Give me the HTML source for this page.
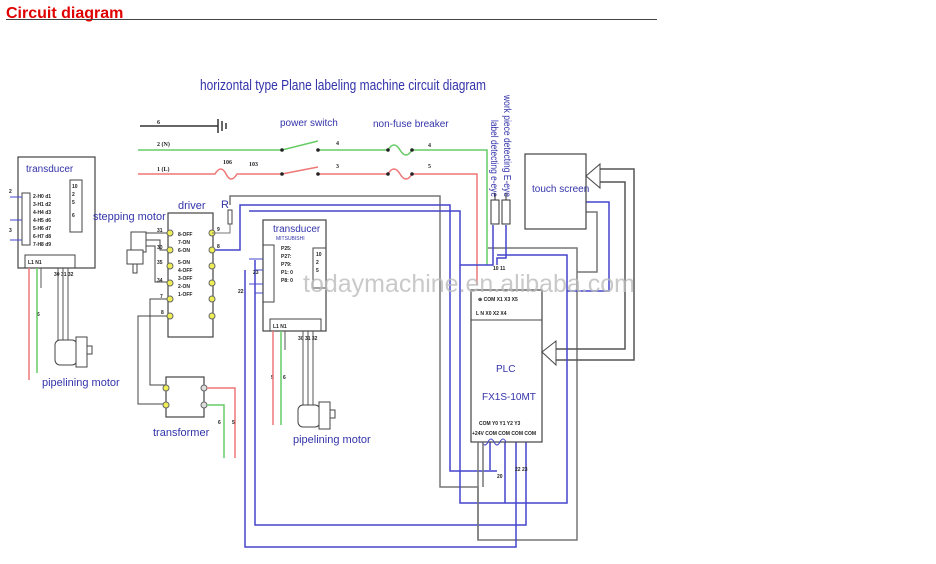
<!DOCTYPE html>
<html><head><meta charset="utf-8"><style>
body{margin:0;background:#fff;width:936px;height:564px;overflow:hidden}
svg{display:block}
.t{font-family:"Liberation Sans",sans-serif}
</style></head><body>
<svg width="936" height="564" viewBox="0 0 936 564" xmlns="http://www.w3.org/2000/svg" class="t">
<text x="6" y="18" font-size="16" font-weight="bold" fill="#e00000">Circuit diagram</text>
<line x1="6" y1="19.5" x2="657" y2="19.5" stroke="#444" stroke-width="1"/>
<text x="200" y="90" font-size="15" fill="#3333aa" textLength="286" lengthAdjust="spacingAndGlyphs">horizontal type Plane labeling machine circuit diagram</text>

<g fill="none" stroke-width="1.5">
<line x1="140" y1="126" x2="218" y2="126" stroke="#333"/>
<path d="M218 119v14M222 121v10M226 123v6" stroke="#333"/>
<path d="M138 150H282L318 141M318 150H388q6-10 12 0t12 0H487V265" stroke="#6c6"/>
<path d="M138 174H215q6-10 11 0t11 0H282L318 167M318 174H388q6-10 12 0t12 0H477V285" stroke="#e77"/>
<path d="M230 205V196H440V487H478" stroke="#777"/>
<path d="M478 487V540H577V248H488" stroke="#777"/>
<path d="M586 212H597V272H577" stroke="#777"/>
<path d="M600 169H634V360H556M600 182H625V349H556" stroke="#555"/>
<path d="M213 250H240V205H450V471H497" stroke="#44c"/>
<path d="M249 211H460V503H567V255H497" stroke="#44c"/>
<path d="M586 202H609V291H567" stroke="#44c"/>
<path d="M255 260V525H526V440" stroke="#44c"/>
<path d="M245 270V547H516V440" stroke="#44c"/>
<path d="M460 265H493V225" stroke="#44c"/>
<path d="M506 225V258H497V265" stroke="#44c"/>
<path d="M505 440V503M490 440V470" stroke="#44c"/>
</g>
<g font-size="10" fill="#3333aa">
<text x="280" y="126">power switch</text>
<text x="373" y="127">non-fuse breaker</text>
</g>
<g font-size="6" font-weight="bold" fill="#222" font-family="Liberation Serif,serif">
<text x="157" y="124">6</text><text x="157" y="146">2 (N)</text><text x="157" y="171">1 (L)</text>
<text x="223" y="164">106</text><text x="249" y="166">103</text>
<text x="336" y="145">4</text><text x="336" y="168">3</text><text x="428" y="147">4</text><text x="428" y="168">5</text>
</g>
<g fill="#222"><circle cx="282" cy="150" r="1.8"/><circle cx="318" cy="150" r="1.8"/><circle cx="388" cy="150" r="1.8"/><circle cx="412" cy="150" r="1.8"/><circle cx="282" cy="174" r="1.8"/><circle cx="318" cy="174" r="1.8"/><circle cx="388" cy="174" r="1.8"/><circle cx="412" cy="174" r="1.8"/></g>

<text transform="translate(504,95) rotate(90)" font-size="10" fill="#3333aa" textLength="102" lengthAdjust="spacingAndGlyphs">work piece detecting E-eye</text>
<text transform="translate(491,120) rotate(90)" font-size="10" fill="#3333aa" textLength="77" lengthAdjust="spacingAndGlyphs">label detecting e-eye</text>
<rect x="491" y="200" width="8" height="24" fill="#fff" stroke="#333"/><rect x="502" y="200" width="8" height="24" fill="#fff" stroke="#333"/>
<line x1="495" y1="193" x2="495" y2="200" stroke="#333"/><line x1="506" y1="193" x2="506" y2="200" stroke="#333"/>

<rect x="525" y="154" width="61" height="75" fill="#fff" stroke="#444" stroke-width="1.2"/>
<text x="532" y="192" font-size="10" fill="#3333aa">touch screen</text>
<path d="M586 176L600 164V188Z" fill="#fff" stroke="#444"/>

<rect x="471" y="290" width="71" height="152" fill="#fff" stroke="#444" stroke-width="1.2"/>
<line x1="471" y1="320" x2="542" y2="320" stroke="#444"/>
<path d="M542 352L556 341V365Z" fill="#fff" stroke="#444"/>
<text x="496" y="372" font-size="10" fill="#3333aa">PLC</text>
<text x="482" y="400" font-size="10" fill="#3333aa">FX1S-10MT</text>
<g font-size="5" font-weight="bold" fill="#222"><text x="478" y="301">⊕ COM X1 X3 X5</text><text x="476" y="315">L  N  X0 X2 X4</text>
<text x="479" y="425">COM Y0 Y1 Y2 Y3</text><text x="472" y="435">+24V COM COM COM COM</text>
<text x="493" y="270">10 11</text><text x="497" y="478">20</text><text x="515" y="471">22 23</text></g>
<path d="M482 442q3 6 6 0t6 0t6 0t6 0" stroke="#44c" fill="none"/>
<path d="M478 442V540M483 442V487" stroke="#777" fill="none" stroke-width="1.5"/>

<rect x="18" y="157" width="77" height="111" fill="#fff" stroke="#444" stroke-width="1.2"/>
<text x="26" y="172" font-size="10" fill="#3333aa">transducer</text>
<rect x="22" y="193" width="8" height="52" fill="none" stroke="#444"/>
<rect x="70" y="180" width="12" height="52" fill="none" stroke="#444"/>
<rect x="25" y="255" width="50" height="13" fill="none" stroke="#444"/>
<g font-size="5" font-weight="bold" fill="#222"><text x="33" y="198">2-H0 d1</text><text x="33" y="206">3-H1 d2</text><text x="33" y="214">4-H4 d3</text><text x="33" y="222">4-H5 d6</text><text x="33" y="230">5-H6 d7</text><text x="33" y="238">6-H7 d8</text><text x="33" y="246">7-H8 d9</text>
<text x="72" y="188">10</text><text x="72" y="196">2</text><text x="72" y="204">5</text><text x="72" y="217">6</text>
<text x="9" y="193">2</text><text x="9" y="232">3</text><text x="28" y="264">L1 N1</text><text x="54" y="276">30 31 32</text><text x="37" y="316">6</text></g>
<path d="M10 197H22M10 220H22M10 240H22" stroke="#44c" fill="none"/>
<path d="M29 268V380" stroke="#e77" stroke-width="1.5"/><path d="M37 268V373" stroke="#6c6" stroke-width="1.5"/>
<path d="M41 268V288M58 268V345M63 268V345M68 268V345" stroke="#555" fill="none"/>
<rect x="55" y="340" width="22" height="25" rx="5" fill="#fff" stroke="#444"/><rect x="76" y="337" width="11" height="30" fill="#fff" stroke="#444"/><rect x="87" y="346" width="5" height="8" fill="#fff" stroke="#444"/>
<text x="42" y="386" font-size="11" fill="#3333aa">pipelining motor</text>

<text x="178" y="209" font-size="11" fill="#3333aa">driver</text>
<text x="93" y="220" font-size="11" fill="#3333aa">stepping motor</text>
<rect x="168" y="213" width="45" height="124" fill="#fff" stroke="#444" stroke-width="1.2"/>
<g fill="#ee5" stroke="#666"><circle cx="170" cy="233" r="3"/><circle cx="170" cy="250" r="3"/><circle cx="170" cy="266" r="3"/><circle cx="170" cy="283" r="3"/><circle cx="170" cy="299" r="3"/><circle cx="170" cy="316" r="3"/><circle cx="212" cy="233" r="3"/><circle cx="212" cy="250" r="3"/><circle cx="212" cy="266" r="3"/><circle cx="212" cy="283" r="3"/><circle cx="212" cy="299" r="3"/><circle cx="212" cy="316" r="3"/></g>
<g font-size="5" font-weight="bold" fill="#222"><text x="178" y="236">8-OFF</text><text x="178" y="244">7-ON</text><text x="178" y="252">6-ON</text><text x="178" y="264">5-ON</text><text x="178" y="272">4-OFF</text><text x="178" y="280">3-OFF</text><text x="178" y="288">2-ON</text><text x="178" y="296">1-OFF</text>
<text x="157" y="232">31</text><text x="157" y="249">30</text><text x="157" y="264">35</text><text x="157" y="282">34</text><text x="160" y="298">7</text><text x="161" y="314">8</text><text x="217" y="231">9</text><text x="217" y="248">8</text></g>
<path d="M145 233H167M145 240H160V250H167M145 246H155V282H167" stroke="#444" fill="none"/>
<rect x="131" y="232" width="15" height="20" fill="#fff" stroke="#444"/><rect x="127" y="250" width="16" height="14" fill="#fff" stroke="#444"/><rect x="133" y="264" width="4" height="9" fill="#fff" stroke="#444"/>
<text x="221" y="208" font-size="11" fill="#3333aa">R</text>
<rect x="228" y="210" width="4" height="14" fill="#fff" stroke="#444"/>
<path d="M212 233H230V224" stroke="#777" fill="none"/>
<path d="M167 299H150V385H166M167 316H138V404H166" stroke="#444" fill="none"/>

<rect x="166" y="377" width="38" height="40" fill="#fff" stroke="#444" stroke-width="1.2"/>
<g fill="#ee5" stroke="#666"><circle cx="166" cy="388" r="3"/><circle cx="166" cy="405" r="3"/></g>
<g fill="#ddd" stroke="#666"><circle cx="204" cy="388" r="3"/><circle cx="204" cy="405" r="3"/></g>
<path d="M207 388H235V458" stroke="#e77" fill="none" stroke-width="1.5"/><path d="M207 405H224V458" stroke="#6c6" fill="none" stroke-width="1.5"/>
<text x="153" y="436" font-size="11" fill="#3333aa">transformer</text>
<g font-size="5" font-weight="bold" fill="#222"><text x="218" y="424">6</text><text x="232" y="424">5</text></g>

<rect x="263" y="220" width="63" height="111" fill="#fff" stroke="#444" stroke-width="1.2"/>
<text x="273" y="232" font-size="10" fill="#3333aa">transducer</text>
<text x="276" y="240" font-size="5" fill="#3333aa">MITSUBISHI</text>
<rect x="263" y="245" width="11" height="57" fill="none" stroke="#444"/>
<rect x="313" y="248" width="13" height="40" fill="none" stroke="#444"/>
<rect x="270" y="319" width="51" height="12" fill="none" stroke="#444"/>
<g font-size="5" font-weight="bold" fill="#222"><text x="281" y="250">P25:</text><text x="281" y="258">P27:</text><text x="281" y="266">P79:</text><text x="281" y="274">P1: 0</text><text x="281" y="282">P8: 0</text>
<text x="316" y="256">10</text><text x="316" y="264">2</text><text x="316" y="272">5</text><text x="253" y="274">23</text><text x="238" y="293">22</text><text x="273" y="328">L1 N1</text><text x="298" y="340">30 31 32</text><text x="271" y="379">5</text><text x="283" y="379">6</text></g>
<path d="M273 331V425" stroke="#e77" stroke-width="1.5"/><path d="M281 331V425" stroke="#6c6" stroke-width="1.5"/>
<path d="M285 331V350M303 331V405M308 331V405M313 331V405" stroke="#555" fill="none"/>
<path d="M249 259H263M255 270H263M249 284H263M255 293H263" stroke="#44c" fill="none"/>
<rect x="298" y="405" width="22" height="22" rx="5" fill="#fff" stroke="#444"/><rect x="319" y="402" width="11" height="27" fill="#fff" stroke="#444"/><rect x="330" y="410" width="5" height="8" fill="#fff" stroke="#444"/>
<text x="293" y="443" font-size="11" fill="#3333aa">pipelining motor</text>

<text x="303" y="292" font-size="25" fill="#bbb" fill-opacity="0.8" textLength="332" lengthAdjust="spacingAndGlyphs">todaymachine.en.alibaba.com</text>
</svg>
</body></html>
